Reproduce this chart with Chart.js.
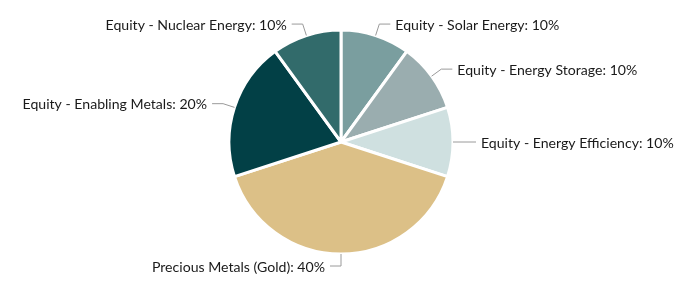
<!DOCTYPE html>
<html>
<head>
<meta charset="utf-8">
<script src="https://cdn.jsdelivr.net/npm/chart.js@4"></script>
<style>
  html, body { margin: 0; padding: 0; background: #ffffff; }
  #wrap { width: 676px; height: 284px; position: relative; }
</style>
</head>
<body>
<div id="wrap"><canvas id="c"></canvas></div>
<script>
const categories = [
  "Equity - Solar Energy",
  "Equity - Energy Storage",
  "Equity - Energy Efficiency",
  "Precious Metals (Gold)",
  "Equity - Enabling Metals",
  "Equity - Nuclear Energy"
];
const shares = [10, 10, 10, 40, 20, 10];
const sliceColors = ["#7a9e9f", "#9aadaf", "#cfe0e0", "#dcc087", "#024046", "#326b6b"];

const labelPlugin = {
  id: 'outLabels',
  afterDatasetsDraw(chart) {
    const ctx = chart.ctx;
    const meta = chart.getDatasetMeta(0);
    ctx.save();
    ctx.font = '14.1px Lato, "Open Sans", sans-serif';
    ctx.textBaseline = 'middle';
    meta.data.forEach((arc, i) => {
      const mid = (arc.startAngle + arc.endAngle) / 2;
      const cx = arc.x, cy = arc.y, r = arc.outerRadius;
      const cos = Math.cos(mid), sin = Math.sin(mid);
      const x0 = cx + cos * r, y0 = cy + sin * r;
      const x1 = cx + cos * (r + 12), y1 = cy + sin * (r + 12);
      const right = cos > 0.001;
      const x2 = x1 + (right ? 11 : -11);
      ctx.strokeStyle = '#9a9a9a';
      ctx.lineWidth = 1;
      ctx.beginPath();
      ctx.moveTo(x0, y0);
      ctx.lineTo(x1, y1);
      ctx.lineTo(x2, y1);
      ctx.stroke();
      ctx.fillStyle = '#1a1a1a';
      ctx.textAlign = right ? 'left' : 'right';
      const txt = categories[i] + ': ' + shares[i] + '%';
      ctx.fillText(txt, x2 + (right ? 5 : -5), y1 + 1);
    });
    ctx.restore();
  }
};

new Chart(document.getElementById('c'), {
  type: 'pie',
  data: {
    labels: categories,
    datasets: [{
      data: shares,
      backgroundColor: sliceColors,
      borderColor: '#ffffff',
      borderWidth: 3,
      radius: 112
    }]
  },
  options: {
    responsive: true,
    maintainAspectRatio: false,
    animation: false,
    layout: { padding: { left: 6, right: 0, top: 0, bottom: 0 } },
    plugins: {
      legend: { display: false },
      tooltip: { enabled: false },
      title: { display: false }
    }
  },
  plugins: [labelPlugin]
});
</script>
</body>
</html>
